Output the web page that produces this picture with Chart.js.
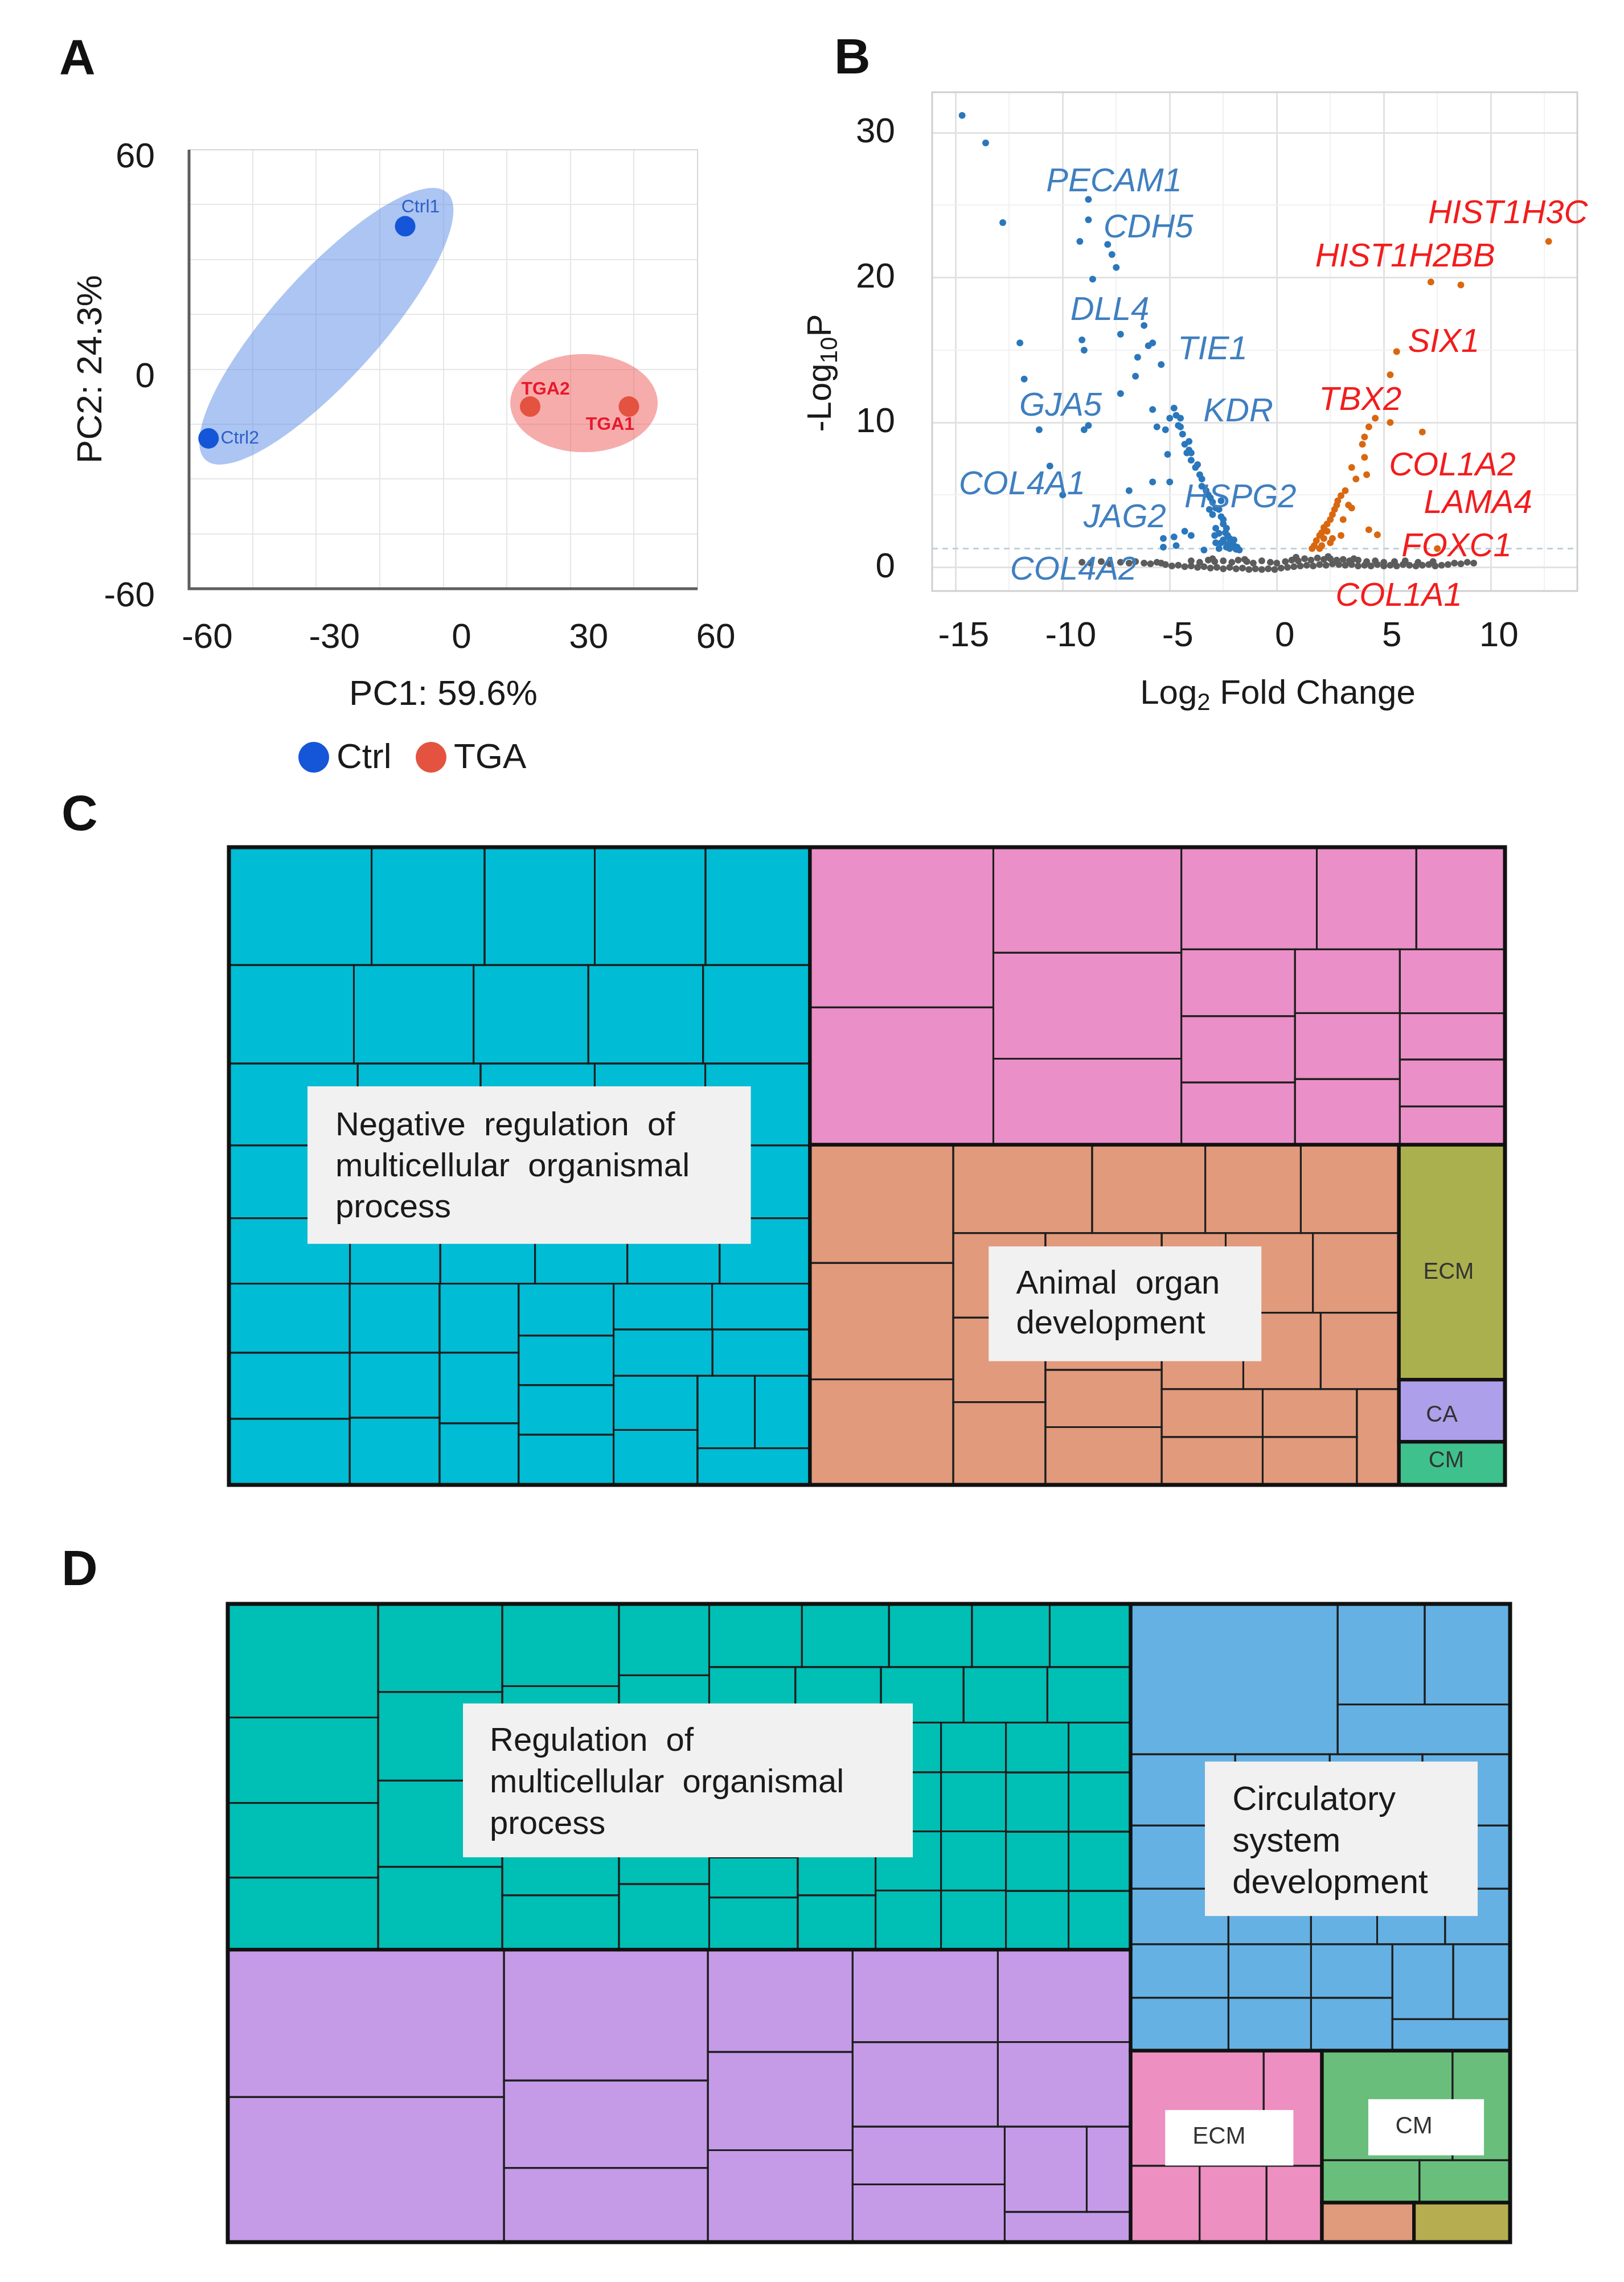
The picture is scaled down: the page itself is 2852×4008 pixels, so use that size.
<!DOCTYPE html>
<html>
<head>
<meta charset="utf-8">
<script src="https://cdn.jsdelivr.net/npm/chart.js@4.4.1/dist/chart.umd.min.js"></script>
<style>
  body { margin: 0; width: 2852px; height: 4008px; background: #fff; position: relative; overflow: hidden; }
  canvas, .tag { position: absolute; }
  .tag { font: bold 88px 'Liberation Sans', Arial, sans-serif; line-height: 88px; color: #111; }
</style>
</head>
<body>
<div class="tag" style="left:104px;top:56px">A</div>
<div class="tag" style="left:1465px;top:55px">B</div>
<div class="tag" style="left:108px;top:1384px">C</div>
<div class="tag" style="left:108px;top:2710px">D</div>
<canvas id="pcaChart" width="1400" height="1400" style="left:0;top:0"></canvas>
<canvas id="volcanoChart" width="1452" height="1300" style="left:1400px;top:0"></canvas>
<canvas id="treeC" width="2261" height="1140" style="left:392px;top:1478px"></canvas>
<canvas id="treeD" width="2272" height="1141" style="left:390px;top:2807px"></canvas>
<script>
const FONT = "'Liberation Sans', Arial, sans-serif";
Chart.defaults.font.family = FONT;

// ---- A: PCA ----
const pcaNames = ['Ctrl1', 'Ctrl2', 'TGA2', 'TGA1'];
const ctrlPC1 = [-9.0, -55.4];
const ctrlPC2 = [39.1, -18.9];
const tgaPC1 = [20.5, 43.8];
const tgaPC2 = [-10.2, -10.2];

// ---- B: volcano ----
const downLFC = [-14.7, -13.6, -12.8, -8.8, -8.8, -9.2, -7.9, -7.7, -7.5, -8.6, -6.2, -7.3, -5.8, -6.0, -6.5, -5.4, -12.0, -9.1, -9.0, -11.8, -6.6, -7.3, -5.8, -11.1, -9.0, -8.8, -10.6, -10.0, -6.9, -5.8, -5.6, -5.2, -5.1, -5.0, -5.3, -4.8, -4.7, -4.3, -4.0, -3.4, -5.3,
  -4.8, -4.7, -4.5, -5.0, -4.6, -4.5, -4.4, -4.3, -4.1, -4.1, -4.0, -4.2, -4.0, -3.8, -3.7, -3.6, -3.5, -3.5, -3.3, -3.2, -3.1, -3.0, -2.85, -2.7, -3.0, -2.6, -2.5, -2.85, -2.7, -2.35, -2.3, -2.2, -2.1, -2.6, -2.0, -1.85, -1.75, -2.35, -2.85, -2.5, -3.15, -2.6,
  -2.4, -2.2, -2.0, -2.7, -2.9, -2.5, -2.3, -1.9];
const downP = [31.2, 29.3, 23.8, 25.4, 24.0, 22.5, 22.3, 21.6, 20.7, 19.9, 16.7, 16.1, 15.5, 15.3, 14.5, 14.0, 15.5, 15.7, 15.0, 13.0, 13.2, 12.0, 10.9, 9.5, 9.5, 9.8, 7.0, 5.0, 5.3, 5.9, 9.7, 9.5, 7.8, 5.9, 2.0, 2.1, 1.5, 2.5, 2.2, 1.2, 1.4,
  11.0, 10.5, 10.3, 10.3, 9.8, 9.7, 9.2, 8.5, 8.7, 8.1, 7.9, 7.9, 7.4, 6.9, 7.1, 6.4, 6.1, 5.6, 5.3, 5.0, 4.8, 4.5, 4.1, 4.0, 3.65, 3.5, 3.0, 2.7, 2.35, 2.7, 2.2, 2.0, 1.75, 1.7, 1.5, 1.4, 1.2, 1.4, 1.7, 3.3, 4.0, 4.6,
  2.4, 1.3, 1.9, 1.3, 2.2, 1.9, 1.6, 1.25];
const upLFC = [12.7, 7.2, 8.6, 5.6, 5.3, 4.6, 5.3, 6.8, 4.3, 4.1, 4.0, 4.1, 3.5, 4.2, 3.7, 3.2, 3.5, 4.3, 4.7, 7.5,
  3.0, 2.85, 2.8, 2.7, 2.6, 2.5, 2.35, 2.2, 2.1, 2.35, 2.0, 2.2, 1.85, 2.6, 1.75, 2.1, 2.5, 1.65, 2.0, 3.0, 3.1, 3.35];
const upP = [22.5, 19.7, 19.5, 14.9, 13.3, 10.3, 10.0, 9.35, 9.7, 9.0, 8.5, 7.6, 6.9, 6.4, 6.1, 5.3, 4.1, 2.6, 2.25, 1.3,
  4.95, 4.6, 4.3, 4.0, 3.65, 3.3, 3.0, 2.75, 2.4, 2.5, 2.2, 2.0, 1.85, 2.0, 1.5, 1.5, 1.7, 1.3, 1.3, 2.2, 3.3, 4.3];
const nsLFC = [
  -9.1, -8.7, -8.2, -7.8, -7.3, -6.9, -6.6, -6.2, -5.9, -5.6, -5.4,
  -5.2, -4.9, -4.6, -4.3, -4.0, -3.7, -3.4, -3.1, -2.8, -2.5,
  -2.2, -1.9, -1.6, -1.3, -1.0, -0.7, -0.4, -0.1, 0.2, 0.5,
  0.8, 1.1, 1.4, 1.7, 2.0, 2.3, 2.6, 2.9, 3.2, 3.5,
  3.8, 4.1, 4.4, 4.7, 5.0, 5.3, 5.6, 5.9, 6.2, 6.5,
  6.8, 7.1, 7.4, 7.7, 8.0,
  -4.0, -3.6, -3.2, -2.9, -2.5, -2.1, -1.8, -1.4, -1.1, -0.7,
  -0.3, 0.0, 0.4, 0.7, 1.0, 1.3, 1.6, 1.9, 2.2, 2.5,
  2.8, 3.1, 3.4, 3.8, 4.2, 4.6, 5.0, 5.5, 6.0, 6.6,
  8.3, 8.6, 8.9, 9.2, -3.0, -1.5, 0.9, 2.4, 3.6, 7.3];
const nsP = [
  0.35, 0.3, 0.4, 0.25, 0.35, 0.3, 0.4, 0.3, 0.25, 0.35, 0.3,
  0.2, 0.1, 0.15, 0.05, 0.1, 0.0, 0.05, -0.05, 0.0, -0.1,
  0.0, -0.1, -0.05, -0.15, -0.1, -0.15, -0.1, -0.15, -0.05, 0.0,
  0.05, 0.1, 0.15, 0.1, 0.2, 0.15, 0.25, 0.2, 0.15, 0.2,
  0.1, 0.15, 0.1, 0.2, 0.1, 0.15, 0.1, 0.2, 0.15, 0.1,
  0.15, 0.2, 0.1, 0.15, 0.2,
  0.45, 0.35, 0.5, 0.4, 0.45, 0.35, 0.5, 0.4, 0.3, 0.45,
  0.35, 0.3, 0.4, 0.5, 0.45, 0.6, 0.5, 0.65, 0.55, 0.6,
  0.5, 0.55, 0.45, 0.5, 0.4, 0.45, 0.35, 0.4, 0.45, 0.35,
  0.3, 0.25, 0.35, 0.3, 0.6, 0.55, 0.7, 0.75, 0.6, 0.4];
const volcanoXTicks = [-15, -12.5, -10, -7.5, -5, -2.5, 0, 2.5, 5, 7.5, 10, 12.5];
const volcanoYTicks = [0, 5, 10, 15, 20, 25, 30];
const pThreshold = 1.3;
const downGenes = ['PECAM1', 'CDH5', 'DLL4', 'TIE1', 'GJA5', 'KDR', 'COL4A1', 'HSPG2', 'JAG2', 'COL4A2'];
const upGenes = ['HIST1H3C', 'HIST1H2BB', 'SIX1', 'TBX2', 'COL1A2', 'LAMA4', 'FOXC1', 'COL1A1'];

// ---- C / D: treemap cell areas (nested strips) ----
const cTeal = [
  [518, 410, 400, 402, 379],
  [379, 363, 348, 348, 324],
  [325, 310, 288, 279, 264],
  [261, 259, 262, 258, 263],
  [244, 182, 191, 186, 186, 182],
  [[257, 246, 246], [191, 180, 186], [168, 172, 150], [152, 145, 145, 147],
   [[139, 138], [141, 139], [[140, 142], [[128, 123], 127]]]]
];
const cPink = [
  [905, 776],
  [611, 614, 498],
  [[426, 313, 279], [[234, 232, 218], [206, 213, 212], [207, 150, 152, 124]]]
];
const cOrange = [[
  [522, 514, 466],
  [[378, 308, 260, 267],
   [[240, 240, 235], [242, 248, 205, 207],
    [[157, 214, 211], [192, 182, 184], [[149, 149], [139, 139], 124]]]]
]];
const cEcm = 768, cCa = 203, cCm = 141;
const cColors = ['#00bcd4', '#ea8fc7', '#e19a7c', '#abb04e', '#ad9fe9', '#3fc18d'];

const dTeal = [
  [525, 395, 345, 333],
  [336, 338, 329, 316],
  [295, 375, 375, 195],
  [198, 193, 193, 193, 182],
  [[180, 169, 161, 151, 157],
   [147, 146, 141, 143, 142],
   [[190, 177, 109, 142], [119, 136, 158, 130], [100, 119, 119, 119], [99, 118, 118, 118], [96, 114, 114, 113], [95, 113, 113, 112]]]
];
const dPurple = [
  [1251, 1232],
  [820, 548, 465],
  [455, 437, 409],
  [[[413, 377], [377, 345]], [[270, 270], [[215, 115], 117]]]
];
const dBlue = [[
  [957, [[269, 264], 264]],
  [229, 207, 203, 192],
  [193, 188, 177, 179],
  [167, 141, 113, 116, 111],
  [[161, 159], [136, 134], [134, 132], [[140, 131], 114]]
]];
const dPink = [[471, 206], [162, 157, 130]];
const dGreen = [[[440, 194], [127, 118]]];
const dOrange = 112, dOlive = 117;
const dColors = ['#00bfb4', '#c59be8', '#65b1e3', '#ed8fc0', '#69be7c', '#e09a7c', '#b6ad50'];

// ================= A =================
const groupEllipses = [
  { cx: -27.6, cy: 11.75, rMajor: 42.5, rMinor: 12.6, angle: -47.9, fill: 'rgba(90,140,230,0.5)' },
  { cx: 33.2, cy: -9.26, rMajor: 17.4, rMinor: 11.6, angle: 0, fill: 'rgba(240,90,90,0.5)' }
];
const pcaLabelOffsets = [[27, -33], [55, 0], [27, -30], [-33, 32]];
const pcaLabelColors = ['#2c5fc9', '#2c5fc9', '#e8192c', '#e8192c'];

const pcaDecor = {
  id: 'pcaDecor',
  beforeDatasetsDraw(chart) {
    const { ctx, chartArea: a, scales: { x, y } } = chart;
    ctx.save();
    ctx.strokeStyle = '#d6d6d6';
    ctx.lineWidth = 2;
    ctx.strokeRect(a.left, a.top, a.width, a.height);
    const unit = x.getPixelForValue(1) - x.getPixelForValue(0);
    groupEllipses.forEach(e => {
      ctx.fillStyle = e.fill;
      ctx.beginPath();
      ctx.ellipse(x.getPixelForValue(e.cx), y.getPixelForValue(e.cy), e.rMajor * unit, e.rMinor * unit, e.angle * Math.PI / 180, 0, Math.PI * 2);
      ctx.fill();
    });
    ctx.strokeStyle = '#5e5e5e';
    ctx.lineWidth = 5;
    ctx.beginPath();
    ctx.moveTo(a.left, a.top);
    ctx.lineTo(a.left, a.bottom);
    ctx.lineTo(a.right, a.bottom);
    ctx.stroke();
    ctx.restore();
  },
  afterDatasetsDraw(chart) {
    const { ctx } = chart;
    ctx.save();
    ctx.textAlign = 'center';
    ctx.textBaseline = 'middle';
    let k = 0;
    chart.data.datasets.forEach((ds, di) => {
      chart.getDatasetMeta(di).data.forEach((pt, i) => {
        const off = pcaLabelOffsets[k];
        ctx.fillStyle = pcaLabelColors[k];
        ctx.font = (di === 1 ? 'bold ' : '') + '32px ' + FONT;
        ctx.fillText(ds.data[i].name, pt.x + off[0], pt.y + off[1]);
        k++;
      });
    });
    // legend
    const legendX = [551, 757];
    ctx.textAlign = 'left';
    ctx.font = '62px ' + FONT;
    chart.data.datasets.forEach((ds, di) => {
      ctx.fillStyle = ds.backgroundColor;
      ctx.beginPath();
      ctx.arc(legendX[di], 1330, 27, 0, Math.PI * 2);
      ctx.fill();
      ctx.fillStyle = '#1a1a1a';
      ctx.fillText(ds.label, legendX[di] + 40, 1332);
    });
    ctx.restore();
  }
};

const fontA = { family: FONT, size: 62 };
new Chart(document.getElementById('pcaChart'), {
  type: 'scatter',
  data: {
    datasets: [
      { label: 'Ctrl', data: ctrlPC1.map((v, i) => ({ x: v, y: ctrlPC2[i], name: pcaNames[i] })),
        backgroundColor: '#1556d8', borderWidth: 0, pointRadius: 18, pointHoverRadius: 18 },
      { label: 'TGA', data: tgaPC1.map((v, i) => ({ x: v, y: tgaPC2[i], name: pcaNames[i + 2] })),
        backgroundColor: '#e4533f', borderWidth: 0, pointRadius: 18, pointHoverRadius: 18 }
    ]
  },
  options: {
    responsive: false, devicePixelRatio: 1, animation: false, events: [],
    layout: { padding: { top: 263, right: 175, bottom: 126, left: 0 } },
    plugins: { legend: { display: false }, tooltip: { enabled: false } },
    scales: {
      x: {
        min: -60, max: 60,
        ticks: { stepSize: 15, autoSkip: false, maxRotation: 0, callback: v => v % 30 === 0 ? v : '', font: fontA, color: '#1a1a1a', padding: 50, labelOffset: 32 },
        grid: { color: '#e6e6e6', lineWidth: 2, drawTicks: false },
        border: { display: false },
        title: { display: true, text: 'PC1: 59.6%', font: fontA, color: '#1a1a1a', padding: { top: 0, bottom: 16 } },
        afterFit: s => { s.height = 240; }
      },
      y: {
        min: -60, max: 60,
        ticks: { stepSize: 15, autoSkip: false, callback: v => v % 60 === 0 ? v : '', font: fontA, color: '#1a1a1a', padding: 60, labelOffset: 14 },
        grid: { color: '#e6e6e6', lineWidth: 2, drawTicks: false },
        border: { display: false },
        title: { display: true, text: 'PC2: 24.3%', font: fontA, color: '#1a1a1a', padding: { top: 124, bottom: 0 } },
        afterFit: s => { s.width = 332; }
      }
    }
  },
  plugins: [pcaDecor]
});

// ================= B =================
const geneLabelPos = {
  PECAM1: [-7.6, 26.6], CDH5: [-6.0, 23.4], DLL4: [-7.8, 17.7], TIE1: [-3.0, 15.0], GJA5: [-10.1, 11.1],
  KDR: [-1.8, 10.7], COL4A1: [-11.9, 5.7], HSPG2: [-1.7, 4.8], JAG2: [-7.1, 3.4], COL4A2: [-9.5, -0.2],
  HIST1H3C: [10.8, 24.4], HIST1H2BB: [6.0, 21.4], SIX1: [7.8, 15.5], TBX2: [3.9, 11.5], COL1A2: [8.2, 7.0],
  LAMA4: [9.4, 4.4], FOXC1: [8.4, 1.4], COL1A1: [5.7, -2.0]
};

function drawParts(ctx, parts, cx, cy) {
  // parts: [text, isSub]
  const big = '60px ' + FONT, small = '42px ' + FONT;
  let total = 0;
  parts.forEach(p => { ctx.font = p[1] ? small : big; total += ctx.measureText(p[0]).width; });
  let xx = cx - total / 2;
  parts.forEach(p => {
    ctx.font = p[1] ? small : big;
    ctx.fillText(p[0], xx, cy + (p[1] ? 16 : 0));
    xx += ctx.measureText(p[0]).width;
  });
}

const volcanoDecor = {
  id: 'volcanoDecor',
  beforeDatasetsDraw(chart) {
    const { ctx, chartArea: a, scales: { y } } = chart;
    ctx.save();
    ctx.strokeStyle = '#cfcfcf';
    ctx.lineWidth = 3;
    ctx.strokeRect(a.left, a.top, a.width, a.height);
    ctx.strokeStyle = '#bcd3dc';
    ctx.setLineDash([10, 8]);
    ctx.lineWidth = 3;
    const ty = y.getPixelForValue(pThreshold);
    ctx.beginPath();
    ctx.moveTo(a.left, ty);
    ctx.lineTo(a.right, ty);
    ctx.stroke();
    ctx.restore();
  },
  afterDraw(chart) {
    const { ctx, scales: { x, y } } = chart;
    ctx.save();
    ctx.textAlign = 'center';
    ctx.textBaseline = 'middle';
    ctx.font = 'italic 58px ' + FONT;
    ctx.fillStyle = '#3f7fc0';
    downGenes.forEach(g => { const p = geneLabelPos[g]; ctx.fillText(g, x.getPixelForValue(p[0]), y.getPixelForValue(p[1])); });
    ctx.fillStyle = '#f21d1d';
    upGenes.forEach(g => { const p = geneLabelPos[g]; ctx.fillText(g, x.getPixelForValue(p[0]), y.getPixelForValue(p[1])); });
    // axis titles
    ctx.fillStyle = '#1a1a1a';
    ctx.textAlign = 'left';
    drawParts(ctx, [['Log', false], ['2', true], [' Fold Change', false]], 844, 1219);
    ctx.translate(42, 655);
    ctx.rotate(-Math.PI / 2);
    drawParts(ctx, [['-Log', false], ['10', true], ['P', false]], 0, 0);
    ctx.restore();
  }
};

const fontB = { family: FONT, size: 62 };
new Chart(document.getElementById('volcanoChart'), {
  type: 'scatter',
  data: {
    datasets: [
      { label: 'down', data: downLFC.map((v, i) => ({ x: v, y: downP[i] })), backgroundColor: '#2a77bc', borderWidth: 0, pointRadius: 6, order: 1 },
      { label: 'up', data: upLFC.map((v, i) => ({ x: v, y: upP[i] })), backgroundColor: '#d9670f', borderWidth: 0, pointRadius: 6, order: 1 },
      { label: 'ns', data: nsLFC.map((v, i) => ({ x: v, y: nsP[i] })), backgroundColor: '#5c5c5c', borderWidth: 0, pointRadius: 6, order: 2 }
    ]
  },
  options: {
    responsive: false, devicePixelRatio: 1, animation: false, events: [],
    layout: { padding: { top: 162, right: 82, bottom: 62, left: 0 } },
    plugins: { legend: { display: false }, tooltip: { enabled: false } },
    scales: {
      x: {
        min: -16.1, max: 14.04,
        afterBuildTicks: s => { s.ticks = volcanoXTicks.map(v => ({ value: v })); },
        ticks: { autoSkip: false, maxRotation: 0, callback: v => v % 5 === 0 ? v : '', font: fontB, color: '#1a1a1a', padding: 43, labelOffset: 14 },
        grid: { color: c => c.tick && c.tick.value % 5 === 0 ? '#e2e2e2' : '#f1f1f1', lineWidth: c => c.tick && c.tick.value % 5 === 0 ? 3 : 2, drawTicks: false },
        border: { display: false },
        afterFit: s => { s.height = 200; }
      },
      y: {
        min: -1.63, max: 32.8,
        afterBuildTicks: s => { s.ticks = volcanoYTicks.map(v => ({ value: v })); },
        ticks: { autoSkip: false, callback: v => v % 10 === 0 ? v : '', font: fontB, color: '#1a1a1a', padding: 65 },
        grid: { color: c => c.tick && c.tick.value % 10 === 0 ? '#e2e2e2' : '#f1f1f1', lineWidth: c => c.tick && c.tick.value % 10 === 0 ? 3 : 2, drawTicks: false },
        border: { display: false },
        afterFit: s => { s.width = 237; }
      }
    }
  },
  plugins: [volcanoDecor]
});

// ================= C / D treemaps =================
function total(n) {
  if (typeof n === 'number') return n;
  if (n.cells !== undefined) return total(n.cells);
  return n.reduce((s, c) => s + total(c), 0);
}

function split(node, x0, y0, x1, y1, horiz, color, cells, groups) {
  if (typeof node === 'number') { cells.push({ x0, y0, x1, y1, color }); return; }
  if (node.cells !== undefined) {
    groups.push({ x0, y0, x1, y1 });
    split(node.cells, x0, y0, x1, y1, horiz, node.color, cells, groups);
    return;
  }
  const t = total(node);
  let p = horiz ? x0 : y0;
  node.forEach(ch => {
    const f = total(ch) / t;
    if (horiz) {
      const q = p + f * (x1 - x0);
      split(ch, p, y0, q, y1, !horiz, color, cells, groups);
      p = q;
    } else {
      const q = p + f * (y1 - y0);
      split(ch, x0, p, x1, q, !horiz, color, cells, groups);
      p = q;
    }
  });
}

function drawTreemap(chart, root, labels) {
  const { ctx, scales: { x, y } } = chart;
  const px = v => x.getPixelForValue(v), py = v => y.getPixelForValue(v);
  const cells = [], groups = [];
  split(root, 0, 0, 1, 1, true, null, cells, groups);
  const rect = (c) => [px(c.x0), py(c.y0), px(c.x1) - px(c.x0), py(c.y1) - py(c.y0)];
  ctx.save();
  cells.forEach(c => { ctx.fillStyle = c.color; ctx.fillRect(...rect(c)); });
  ctx.strokeStyle = '#1e1e1e';
  ctx.lineWidth = 3;
  cells.forEach(c => ctx.strokeRect(...rect(c)));
  ctx.strokeStyle = '#111';
  ctx.lineWidth = 6;
  groups.forEach(g => ctx.strokeRect(...rect(g)));
  ctx.lineWidth = 7;
  ctx.strokeRect(...rect({ x0: 0, y0: 0, x1: 1, y1: 1 }));
  labels.forEach(l => {
    if (l.box) {
      ctx.fillStyle = l.fill;
      const [a, b, c, d] = l.box;
      ctx.fillRect(px(a), py(b), px(c) - px(a), py(d) - py(b));
    }
    ctx.fillStyle = l.color || '#1a1a1a';
    ctx.font = l.size + 'px ' + FONT;
    ctx.textAlign = l.align || 'left';
    ctx.textBaseline = l.mid ? 'middle' : 'alphabetic';
    l.lines.forEach((t, i) => ctx.fillText(t, px(l.x), py(l.y) + i * (l.lh || 0)));
  });
  ctx.restore();
}

function treemapChart(id, root, labels) {
  return new Chart(document.getElementById(id), {
    type: 'scatter',
    data: { datasets: [] },
    options: {
      responsive: false, devicePixelRatio: 1, animation: false, events: [],
      layout: { padding: 10 },
      plugins: { legend: { display: false }, tooltip: { enabled: false } },
      scales: {
        x: { type: 'linear', min: 0, max: 1, display: false },
        y: { type: 'linear', min: 0, max: 1, reverse: true, display: false }
      }
    },
    plugins: [{ id: 'treemap', afterDatasetsDraw(chart) { drawTreemap(chart, root, labels); } }]
  });
}

const grp = (cells, color) => ({ cells, color });

const cRoot = [grp(cTeal, cColors[0]),
  [grp(cPink, cColors[1]), [grp(cOrange, cColors[2]), [grp(cEcm, cColors[3]), grp(cCa, cColors[4]), grp(cCm, cColors[5])]]]];
const cLabels = [
  { box: [0.0616, 0.375, 0.409, 0.622], fill: '#f1f1f1', lines: ['Negative  regulation  of', 'multicellular  organismal', 'process'], x: 0.0834, y: 0.452, size: 58, lh: 72 },
  { box: [0.5954, 0.626, 0.8091, 0.806], fill: '#f1f1f1', lines: ['Animal  organ', 'development'], x: 0.6169, y: 0.70, size: 58, lh: 70 },
  { lines: ['ECM'], x: 0.9558, y: 0.667, size: 40, align: 'center', mid: true, color: '#333' },
  { lines: ['CA'], x: 0.9505, y: 0.891, size: 40, align: 'center', mid: true, color: '#333' },
  { lines: ['CM'], x: 0.954, y: 0.9625, size: 40, align: 'center', mid: true, color: '#333' }
];
treemapChart('treeC', cRoot, cLabels);

const dRoot = [[grp(dTeal, dColors[0]), grp(dPurple, dColors[1])],
  [grp(dBlue, dColors[2]), [grp(dPink, dColors[3]), [grp(dGreen, dColors[4]), [grp(dOrange, dColors[5]), grp(dOlive, dColors[6])]]]]];
const dLabels = [
  { box: [0.1834, 0.156, 0.5342, 0.397], fill: '#f1f1f1', lines: ['Regulation  of', 'multicellular  organismal', 'process'], x: 0.2043, y: 0.230, size: 58, lh: 73 },
  { box: [0.762, 0.247, 0.9747, 0.489], fill: '#f1f1f1', lines: ['Circulatory', 'system', 'development'], x: 0.7834, y: 0.323, size: 60, lh: 73 },
  { box: [0.731, 0.793, 0.831, 0.880], fill: '#ffffff', lines: ['ECM'], x: 0.773, y: 0.835, size: 42, align: 'center', mid: true, color: '#333' },
  { box: [0.8894, 0.776, 0.9796, 0.864], fill: '#ffffff', lines: ['CM'], x: 0.925, y: 0.819, size: 42, align: 'center', mid: true, color: '#333' }
];
treemapChart('treeD', dRoot, dLabels);
</script>
</body>
</html>
